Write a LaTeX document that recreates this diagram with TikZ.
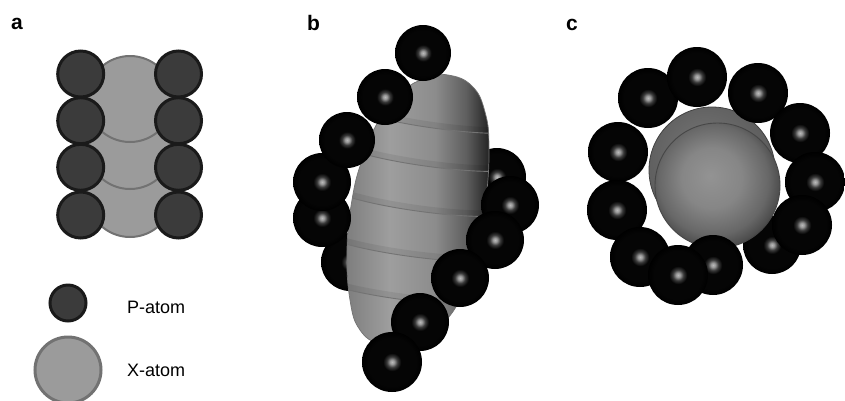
\documentclass[tikz,border=0pt]{standalone}
\usepackage{fontspec}
\setmainfont{Liberation Sans}

% flat schematic colours
\definecolor{pfill}{HTML}{3B3B3B}
\definecolor{pedge}{HTML}{1A1A1A}
\definecolor{xfill}{HTML}{9B9B9B}
\definecolor{xedge}{HTML}{727272}
% rendered P spheres
\definecolor{hl}{HTML}{BABABA}
\definecolor{hlB}{HTML}{9A9A9A}
\definecolor{hlmid}{HTML}{383838}
\definecolor{ballin}{HTML}{050505}
\definecolor{ballout}{HTML}{000000}
% rendered X body
\definecolor{bodyA}{HTML}{7E7E7E}
\definecolor{bodyB}{HTML}{9E9E9E}
\definecolor{bodyC}{HTML}{8C8C8C}
\definecolor{bodyD}{HTML}{5E5E5E}
\definecolor{bodyE}{HTML}{232323}
\definecolor{xsA}{HTML}{939393}
\definecolor{xsB}{HTML}{868686}
\definecolor{xsC}{HTML}{676767}
\definecolor{xsD}{HTML}{444444}
\definecolor{backA}{HTML}{767676}
\definecolor{backB}{HTML}{5E5E5E}

\pgfdeclareradialshading{pball}{\pgfpoint{0bp}{0bp}}{%
  color(0bp)=(hl); color(1.8bp)=(hlB); color(4.5bp)=(hlmid);
  color(7.5bp)=(ballin); color(20bp)=(ballin); color(25bp)=(ballout);
  color(50bp)=(ballout)}
\pgfdeclareradialshading{xball}{\pgfpoint{-3bp}{4bp}}{%
  color(0bp)=(xsA); color(12bp)=(xsB); color(22bp)=(xsC);
  color(28bp)=(xsD); color(50bp)=(xsD)}
\pgfdeclareradialshading{xback}{\pgfpoint{-4bp}{8bp}}{%
  color(0bp)=(backA); color(25bp)=(backB); color(50bp)=(backB)}
\pgfdeclarehorizontalshading{bodysh}{100bp}{%
  color(0bp)=(bodyA); color(25bp)=(bodyA); color(40bp)=(bodyB);
  color(56bp)=(bodyC); color(67bp)=(bodyD); color(75bp)=(bodyE);
  color(100bp)=(bodyE)}

\tikzset{
  patom/.style={fill=pfill, draw=pedge, line width=3pt},
  xatom/.style={fill=xfill, draw=xedge, line width=2pt},
  psphere/.style={shading=pball},
  bandline/.style={draw=black!55, line width=0.9pt},
  bandshadow/.style={draw=black, opacity=0.07, line width=6pt},
  paneltag/.style={anchor=base west, inner sep=0pt,
    font=\fontsize{21}{22}\selectfont\bfseries},
  legtext/.style={anchor=base west, inner sep=0pt,
    font=\fontsize{18}{20}\selectfont},
}

\begin{document}
\begin{tikzpicture}[x=1pt, y=-1pt]
\useasboundingbox (0,0) rectangle (845,400);

% ---------------- panel a: schematic ----------------
\node[paneltag] (taga) at (11,29) {a};
\foreach \cy in {194,146,99}
  \draw[xatom] (130,\cy) circle[radius=43];
\foreach \cy in {74,120.7,167.3,215} {
  \draw[patom] (80.7,\cy) circle[radius=23];
  \draw[patom] (178.5,\cy) circle[radius=23];
}

% legend
\draw[patom] (68,303) circle[radius=18];
\node[legtext] (legp) at (127,313) {P-atom};
\draw[xatom, line width=3pt] (68,370) circle[radius=33];
\node[legtext] (legx) at (127,376) {X-atom};

% ---------------- panel b: helical wrap ----------------
\node[paneltag] (tagb) at (307,30) {b};
% spheres behind the body
\foreach \px/\py in {350/262, 497/177}
  \shade[psphere] (\px,\py) circle[radius=29];
% X body outline
\def\bodypath{plot[smooth cycle, tension=0.75] coordinates {
  (448,75) (472,86) (485,112) (489,148) (486,200) (478,252) (464,292)
  (440,326) (405,345) (380,344) (360,330) (350,300) (347,250) (352,200)
  (362,160) (378,122) (402,92) (426,78)}}
\shade[shading=bodysh] \bodypath;
\begin{scope}
  \clip \bodypath;
  \foreach \mx/\my in {433/128, 425/166, 417/211, 407/256, 398/299} {
    \draw[bandshadow, shift={(\mx,\my-3)}, rotate=-8]
      (-90,-12) arc[start angle=180, end angle=0, x radius=90, y radius=12];
    \draw[bandline, shift={(\mx,\my)}, rotate=-8]
      (-90,-12) arc[start angle=180, end angle=0, x radius=90, y radius=12];
  }
\end{scope}
\draw[black!55, line width=0.7pt] \bodypath;
% spheres in front
\foreach \px/\py/\pr in {322/218/29, 322/182/29, 347/140/28, 385/97/28, 423/53/28,
                         510/205/29, 495/240/29, 460/278/29, 420/322/29, 392/362/30}
  \shade[psphere] (\px,\py) circle[radius=\pr];

% ---------------- panel c: ring ----------------
\node[paneltag] (tagc) at (566,30) {c};
\shade[psphere] (772,245) circle[radius=29];
\shade[shading=xback] (712,170) circle[radius=63];
\draw[black!75, line width=0.8pt] (712,170) circle[radius=63];
\shade[shading=xball] (717.5,185.5) circle[radius=62.5];
\draw[black!72, line width=0.9pt] (717.5,185.5) circle[radius=62.5];
\foreach \px/\py in {648/98, 758/93, 697/77, 618/152, 800/133,
                     617/210, 815/182, 802/225, 640/257, 713/265, 678/275}
  \shade[psphere] (\px,\py) circle[radius=30];
\end{tikzpicture}
\end{document}
